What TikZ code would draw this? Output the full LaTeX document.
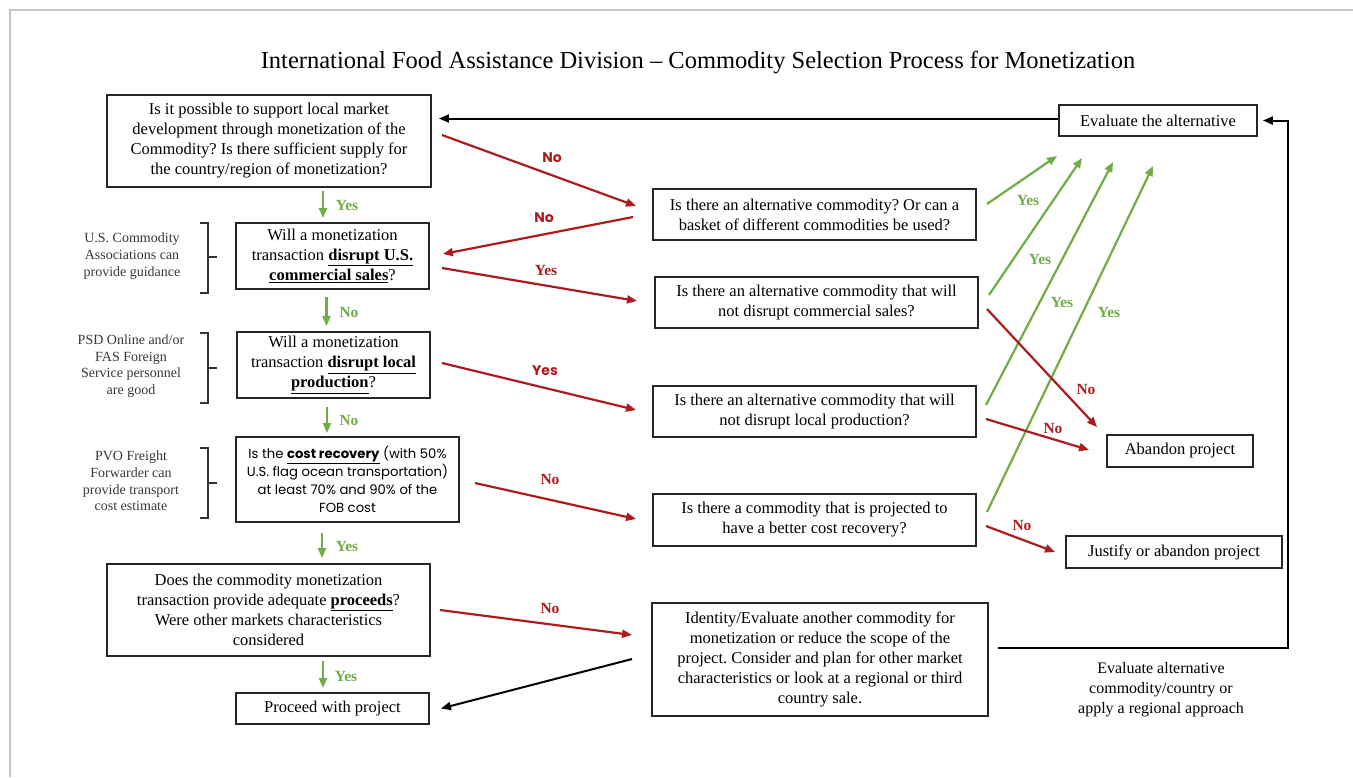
\documentclass[tikz,border=0pt]{standalone}
\usepackage{fontspec}
\setmainfont{Liberation Serif}
\newfontfamily\gothic{Poppins}
\usetikzlibrary{arrows.meta,calc}
\definecolor{rd}{RGB}{172,28,30}
\definecolor{gr}{RGB}{112,173,71}
\definecolor{sidecol}{RGB}{55,55,55}
\newcommand{\ulb}[1]{\underline{\textbf{#1}}}
\frenchspacing
\begin{document}
\begin{tikzpicture}[x=1pt,y=-1pt,
  box/.style={draw=black!85, line width=1.9pt, inner sep=0pt, align=center,
    font=\fontsize{16.5}{20}\selectfont\frenchspacing},
  sidetxt/.style={align=center, text=sidecol, font=\fontsize{14}{16.7}\selectfont},
  rarr/.style={draw=rd, line width=2.2pt, -{Triangle[length=10pt,width=8pt]}},
  garr/.style={draw=gr, line width=2.2pt, -{Triangle[length=10pt,width=8pt]}},
  karr/.style={draw=black, line width=2pt, -{Triangle[length=10pt,width=8pt]}},
  rlab/.style={text=rd, font=\fontsize{15.5}{15}\selectfont\bfseries},
  rlabs/.style={text=rd, font=\gothic\fontsize{14}{14}\selectfont\bfseries},
  glab/.style={text=gr, font=\fontsize{15.5}{15}\selectfont\bfseries},
  brk/.style={draw=black!80, line width=1.4pt}]
\useasboundingbox (0,0) rectangle (1353,777);
% page frame
\draw[gray!45, line width=1.5pt] (10,777) -- (10,10) -- (1353,10);

\node[font=\fontsize{24.5}{28}\selectfont] (title) at (698,63)
  {International Food Assistance Division -- Commodity Selection Process for Monetization};

% left column
\node[box, minimum width=324pt, minimum height=92pt] (q1) at (269,141)
  {Is it possible to support local market\\development through monetization of the\\Commodity? Is there sufficient supply for\\the country/region of monetization?};
\node[box, minimum width=193pt, minimum height=66pt] (q2) at (332.5,256)
  {Will a monetization\\transaction \ulb{disrupt U.S.}\\\ulb{commercial sales}?};
\node[box, minimum width=193pt, minimum height=66pt] (q3) at (333.5,365)
  {Will a monetization\\transaction \ulb{disrupt local}\\\ulb{production}?};
\node[box, minimum width=223pt, minimum height=85pt, font=\gothic\fontsize{13.2}{18}\selectfont] (q4) at (347.5,479.5)
  {Is the \ulb{cost recovery} (with 50\%\\U.S. flag ocean transportation)\\at least 70\% and 90\% of the\\FOB cost};
\node[box, minimum width=323pt, minimum height=92pt] (q5) at (268.5,610)
  {Does the commodity monetization\\transaction provide adequate \ulb{proceeds}?\\Were other markets characteristics\\considered};
\node[box, minimum width=193pt, minimum height=31pt] (q6) at (332.5,708.5)
  {Proceed with project};

% side notes
\node[sidetxt] (s1) at (132,256) {U.S. Commodity\\Associations can\\provide guidance};
\node[sidetxt] (s2) at (131,366) {PSD Online and/or\\FAS Foreign\\Service personnel\\are good};
\node[sidetxt] (s3) at (131,481) {PVO Freight\\Forwarder can\\provide transport\\cost estimate};
\draw[brk] (200,223) -- (208,223) -- (208,293) -- (200,293) (208,257) -- (217,257);
\draw[brk] (200,333) -- (208,333) -- (208,403) -- (200,403) (208,368) -- (217,368);
\draw[brk] (200,448) -- (208,448) -- (208,518) -- (200,518) (208,483) -- (217,483);

% right column
\node[box, minimum width=323pt, minimum height=51pt] (qa) at (814.5,214.5)
  {Is there an alternative commodity? Or can a\\basket of different commodities be used?};
\node[box, minimum width=323pt, minimum height=51pt] (qb) at (816.5,302.5)
  {Is there an alternative commodity that will\\not disrupt commercial sales?};
\node[box, minimum width=323pt, minimum height=51pt] (qc) at (814.5,411.5)
  {Is there an alternative commodity that will\\not disrupt local production?};
\node[box, minimum width=323pt, minimum height=52pt] (qd) at (814.5,520)
  {Is there a commodity that is projected to\\have a better cost recovery?};
\node[box, minimum width=336pt, minimum height=113pt] (qe) at (820,659.5)
  {Identity/Evaluate another commodity for\\monetization or reduce the scope of the\\project. Consider and plan for other market\\characteristics or look at a regional or third\\country sale.};

\node[box, minimum width=198pt, minimum height=31pt] (eval) at (1158,120.5) {Evaluate the alternative};
\node[box, minimum width=146pt, minimum height=32pt] (aband) at (1180,451) {Abandon project};
\node[box, minimum width=216pt, minimum height=32pt] (just) at (1174,552) {Justify or abandon project};
\node[align=center, font=\fontsize{16}{20}\selectfont] (evaltxt) at (1161,690)
  {Evaluate alternative\\commodity/country or\\apply a regional approach};

% green down arrows
\draw[garr] ($(q1.south)+(54,3)$) -- ($(q2.north)+(-9.5,-4)$);
\node[glab] (y1) at (347,205) {Yes};
\draw[garr] ($(q2.south)+(-6,7)$) -- ($(q3.north)+(-7,-5)$);
\node[glab] (n1) at (349,312) {No};
\draw[garr] ($(q3.south)+(-6.5,8)$) -- ($(q4.north)+(-20.5,-3)$);
\node[glab] (n2) at (349,420) {No};
\draw[garr] ($(q4.south)+(-25.5,10)$) -- ($(q5.north)+(53.5,-5)$);
\node[glab] (y2) at (347,546) {Yes};
\draw[garr] ($(q5.south)+(54.5,4)$) -- ($(q6.north)+(-9.5,-4)$);
\node[glab] (y3) at (346,676) {Yes};

% red arrows between columns
\draw[rarr] ($(q1.east)+(10,-6)$) -- ($(qa.west)+(-16,-8.5)$);
\node[rlabs] (rn1) at (552,158) {No};
\draw[rarr] ($(qa.west)+(-19,2.5)$) -- ($(q2.east)+(13,-2)$);
\node[rlabs] (rn2) at (544,218) {No};
\draw[rarr] ($(q2.east)+(12,12)$) -- ($(qb.west)+(-17,-1.5)$);
\node[rlab] (ry1) at (546,270) {Yes};
\draw[rarr] ($(q3.east)+(11,-2)$) -- ($(qc.west)+(-16,-1.5)$);
\node[rlabs] (ry2) at (545,371) {Yes};
\draw[rarr] ($(q4.east)+(15,3.5)$) -- ($(qd.west)+(-16,-1)$);
\node[rlab] (rn3) at (550,479) {No};
\draw[rarr] ($(q5.east)+(9,0)$) -- ($(qe.west)+(-19,-24.5)$);
\node[rlab] (rn4) at (550,608) {No};

% black arrows
\draw[karr] ($(qe.west)+(-19,-0.5)$) -- ($(q6.east)+(11,0)$);
\draw[karr] ($(eval.west)+(0,-2)$) -- ($(eval.west -| q1.east)+(7,-2)$);
\draw[karr] ($(qe.east)+(9,-11.5)$) -| ($(eval.east)+(30,0)$) -- ($(eval.east)+(5,0)$);

% green yes arrows to evaluate
\draw[garr] ($(qa.east)+(10,-10.5)$) -- ($(eval.south west)+(-1,19)$);
\node[glab] (gy1) at (1028,200) {Yes};
\draw[garr] ($(qb.east)+(10,-7.5)$) -- ($(eval.south west)+(24,21)$);
\node[glab] (gy2) at (1040,259) {Yes};
\draw[garr] ($(qc.east)+(9,-6.5)$) -- ($(eval.south west)+(55,25)$);
\node[glab] (gy3) at (1062,302) {Yes};
\draw[garr] ($(qd.east)+(10,-8)$) -- ($(eval.south west)+(95,29)$);
\node[glab] (gy4) at (1109,312) {Yes};

% red no arrows to abandon / justify
\draw[rarr] ($(qb.east)+(8,6.5)$) -- ($(aband.north west)+(-9,-7)$);
\node[rlab] (gn1) at (1086,389) {No};
\draw[rarr] ($(qc.east)+(9,7.5)$) -- ($(aband.west)+(-17,-1)$);
\node[rlab] (gn2) at (1053,428) {No};
\draw[rarr] ($(qd.east)+(9,6)$) -- ($(just.west)+(-10,0)$);
\node[rlab] (gn3) at (1022,525) {No};
\end{tikzpicture}
\end{document}
